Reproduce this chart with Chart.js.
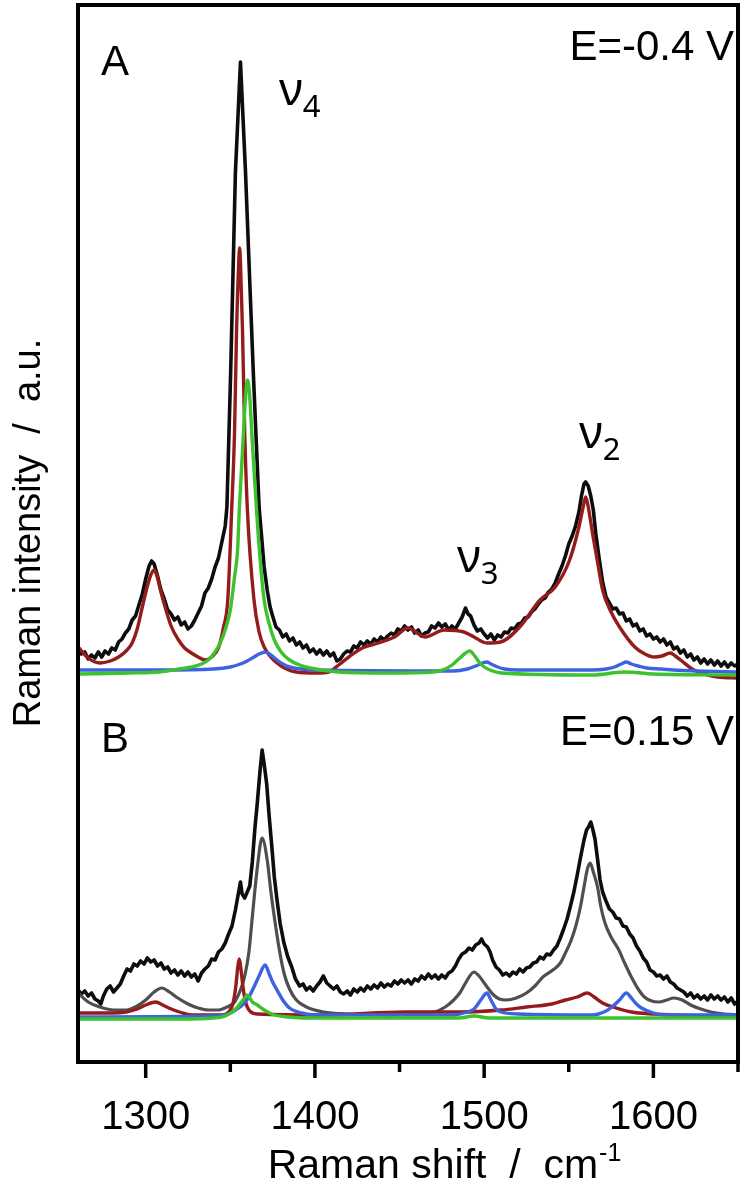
<!DOCTYPE html>
<html>
<head>
<meta charset="utf-8">
<title>Raman spectra</title>
<script src="https://cdn.jsdelivr.net/npm/chart.js@4"></script>
<style>
  html, body { margin: 0; padding: 0; background: #fff; }
  #wrap { width: 754px; height: 1189px; }
</style>
</head>
<body>
<div id="wrap"><canvas id="ramanChart" width="754" height="1189"></canvas></div>
<script>
// x axis ticks (cm-1)
const majorTicks = [1300, 1400, 1500, 1600];
const minorTicks = [1350, 1450, 1550, 1650];

// panel A, E = -0.4 V  ([shift, intensity])
const aBlack = [[1260,41.5],[1262,40.8],[1264,41.0],[1266,40.3],[1268,40.7],[1270,40.4],[1272,41.0],[1274,40.5],[1276,41.1],[1278,40.8],[1280,41.4],[1282,41.2],[1284,42.0],[1286,42.3],[1288,42.9],[1290,43.3],[1292,44.2],[1294,44.6],[1296,45.7],[1298,46.8],[1300,48.3],[1302,49.6],[1303.5,50.1],[1305,49.8],[1307,48.6],[1309,47.2],[1311,46.3],[1313,45.2],[1315,44.8],[1317,44.2],[1319,44.5],[1321,43.7],[1323,44.0],[1325,43.3],[1327,43.6],[1329,44.2],[1331,44.9],[1333,45.6],[1335,46.9],[1337,47.4],[1339,48.3],[1341,49.5],[1343,50.4],[1345,52.0],[1347,53.6],[1348,55.5],[1350.2,68.9],[1353,88.9],[1356,100],[1359,88.9],[1363.6,68.9],[1367,55.5],[1370,49.5],[1371.8,47.2],[1373.5,45.5],[1375,44.6],[1377,43.5],[1379,43.2],[1381,42.5],[1383,42.8],[1385,42.1],[1387,42.4],[1389,41.7],[1391,42.0],[1393,41.4],[1395,41.7],[1397,41.0],[1399,41.3],[1401,40.8],[1403,41.2],[1405,40.7],[1407,41.1],[1409,40.6],[1411,40.9],[1413,40.1],[1415,40.3],[1417,40.8],[1419,41.1],[1421,41.0],[1423,41.6],[1425,41.4],[1427,42.0],[1429,41.7],[1431,42.1],[1433,41.8],[1435,42.3],[1437,42.0],[1439,42.5],[1441,42.2],[1443,42.6],[1445,42.9],[1447,42.7],[1449,43.3],[1451,43.1],[1453,43.6],[1455,43.2],[1457,43.5],[1459,42.9],[1461,43.2],[1463,42.6],[1465,42.9],[1467,43.0],[1469,43.6],[1471,43.4],[1473,43.9],[1475,43.5],[1477,43.8],[1479,43.2],[1481,43.6],[1483,43.3],[1485,43.9],[1487,44.5],[1489,45.4],[1490.5,44.8],[1492,44.6],[1494,43.7],[1496,43.1],[1498,43.3],[1500,42.8],[1502,42.4],[1504,42.8],[1506,42.2],[1508,42.7],[1510,42.5],[1512,43.0],[1514,42.9],[1516,43.4],[1518,43.3],[1520,43.8],[1522,43.9],[1524,44.4],[1526,44.5],[1528,45.0],[1530,45.3],[1532,45.8],[1534,46.2],[1536,46.4],[1538,47.0],[1540,47.3],[1542,47.9],[1544,48.8],[1546,49.6],[1548,50.6],[1550,51.8],[1552,52.6],[1554,53.6],[1556,55.0],[1557.5,56.6],[1559,57.8],[1560,58.0],[1561.5,57.6],[1563,56.6],[1564.5,55.2],[1566,52.8],[1568,50.3],[1570,48.0],[1572,46.5],[1574,45.9],[1576,45.3],[1578,45.4],[1580,44.8],[1582,44.9],[1584,44.1],[1586,44.3],[1588,43.6],[1590,43.8],[1592,43.1],[1594,43.3],[1596,42.6],[1598,42.8],[1600,42.3],[1602,42.5],[1604,42.0],[1606,42.3],[1608,41.7],[1610,42.0],[1612,41.3],[1614,41.5],[1616,40.9],[1618,41.2],[1620,40.5],[1622,40.8],[1624,40.2],[1626,40.5],[1628,39.9],[1630,40.3],[1632,39.8],[1634,40.2],[1636,39.7],[1638,40.1],[1640,39.6],[1642,40.0],[1644,39.5],[1646,39.9],[1648,39.6],[1650,39.8]];
const aRed = [[1260,41.5],[1266,40.4],[1273,39.9],[1279,40.1],[1284,40.5],[1289,41.2],[1292,41.9],[1295,43.3],[1298,45.5],[1301,47.6],[1303,48.7],[1305,49.2],[1307,48.4],[1309,47.0],[1312,45.2],[1315,43.6],[1319,42.3],[1323,41.4],[1327,40.9],[1331,40.5],[1335,40.2],[1339,40.5],[1343,41.4],[1346,43.5],[1348.5,46.2],[1350.8,55.2],[1352.5,63],[1353.7,73.2],[1355,80],[1355.5,81.4],[1356,80],[1357.2,73.2],[1358.5,63],[1360.1,55.2],[1364,46.2],[1367,43.0],[1370,41.5],[1377.6,39.9],[1389,39.0],[1401,38.9],[1408,39.0],[1414,39.7],[1420,40.5],[1428,41.4],[1437.5,41.9],[1447,42.5],[1455,43.4],[1465,42.5],[1476.5,43.2],[1488,43.0],[1494,42.5],[1501.6,41.9],[1509.7,42.0],[1521,43.5],[1533,46.2],[1542,47.5],[1550.5,50.2],[1556,53.5],[1558.5,55.5],[1560,56.5],[1561.5,55.5],[1564,52.9],[1567,50.0],[1570,47.2],[1575,45.0],[1580,43.5],[1589,41.5],[1595,40.8],[1600.5,40.5],[1605,40.6],[1610,40.9],[1613,40.6],[1616,40.2],[1624,39.2],[1638,38.5],[1650,38.4]];
const aGreen = [[1260,38.8],[1290,38.9],[1308,39.0],[1320,39.3],[1327,39.5],[1333,39.8],[1337,40.2],[1341,41.0],[1344,41.9],[1347,43.2],[1350,45.2],[1352.5,48.5],[1354.3,51.2],[1355.3,55.2],[1357.5,62],[1359,66.5],[1360.2,68.2],[1361.5,66.5],[1363,62],[1365.5,55.2],[1367.5,50.5],[1370,46.2],[1373,43.8],[1376,42.2],[1380,41.0],[1385,40.2],[1391,39.7],[1397,39.4],[1414,39.0],[1443,38.9],[1470,39.0],[1477,39.3],[1481,39.7],[1485,40.3],[1489,40.9],[1491.5,41.1],[1494,40.7],[1497,40.0],[1500,39.5],[1505,39.1],[1510,38.9],[1564,38.7],[1583,39.0],[1600,38.8],[1650,38.7]];
const aBlue = [[1260,39.2],[1308,39.2],[1340,39.3],[1350,39.5],[1356,39.8],[1360,40.1],[1364,40.5],[1367,40.8],[1370.6,41.0],[1374,40.7],[1377.6,40.2],[1381,39.8],[1385,39.5],[1392,39.3],[1401,39.2],[1482,39.1],[1490,39.3],[1495,39.6],[1499,39.9],[1501.6,40.0],[1504,39.8],[1508,39.5],[1512,39.3],[1520,39.2],[1564,39.2],[1572,39.3],[1577,39.5],[1581,39.8],[1584,40.0],[1587,39.8],[1591,39.6],[1596,39.4],[1605,39.3],[1612,39.2],[1650,39.0]];

// panel B, E = 0.15 V
const bBlack = [[1260,7.2],[1262,6.8],[1264,7.1],[1266,6.6],[1268,6.9],[1270,6.3],[1272,6.1],[1273.5,5.8],[1275,6.6],[1277,7.3],[1279,7.6],[1281,7.0],[1283,7.4],[1285,7.8],[1287,8.6],[1289,9.3],[1291,9.1],[1293,9.8],[1295,9.6],[1297,10.1],[1299,9.8],[1301,10.4],[1303,10.0],[1305,10.2],[1307,9.6],[1309,9.9],[1311,9.3],[1313,9.5],[1315,8.9],[1317,9.2],[1319,8.7],[1321,9.1],[1323,8.6],[1325,9.0],[1327,8.5],[1329,8.8],[1331,8.1],[1333,8.9],[1335,9.3],[1337,9.6],[1339,10.3],[1341,10.2],[1343,11.0],[1345,11.3],[1347,11.9],[1349,12.8],[1351,13.6],[1353,15.2],[1354.5,16.6],[1356,18.0],[1357,16.8],[1358.5,16.4],[1360,17.0],[1361.5,17.6],[1363,20.0],[1364.5,23.3],[1366,26.0],[1367.5,29.0],[1368.8,31.2],[1370,29.8],[1371.5,27.8],[1373,24.5],[1374.7,21.2],[1376,18.5],[1377.6,16.2],[1379.5,13.8],[1381.7,11.9],[1384,10.5],[1386.3,9.5],[1388.5,8.3],[1391,7.6],[1393,7.8],[1395,7.2],[1397,7.5],[1399,7.1],[1401,7.6],[1403,8.0],[1405,8.6],[1407,7.9],[1409,7.6],[1411,7.3],[1413,7.6],[1415,7.0],[1417,6.8],[1419,7.1],[1421,6.7],[1423,7.3],[1425,7.0],[1427,7.4],[1429,7.1],[1431,7.6],[1433,7.3],[1435,7.7],[1437,7.4],[1439,7.9],[1441,7.5],[1443,7.8],[1445,7.6],[1447,8.1],[1449,7.8],[1451,8.2],[1453,7.9],[1455,8.2],[1457,7.8],[1459,8.3],[1461,8.1],[1463,8.6],[1465,8.3],[1467,8.8],[1469,8.4],[1471,8.7],[1473,8.3],[1475,8.7],[1477,8.4],[1479,8.9],[1481,9.1],[1483,9.6],[1485,10.3],[1487,10.8],[1489,11.0],[1491,11.4],[1493,11.2],[1495,11.7],[1497,11.9],[1498.5,12.3],[1500,11.8],[1502,11.5],[1503.5,11.0],[1505,10.2],[1507,9.5],[1509,9.2],[1511,8.7],[1513,8.9],[1515,8.6],[1517,9.0],[1519,8.8],[1521,9.3],[1523,9.0],[1525,9.4],[1527,9.5],[1529,9.9],[1531,10.0],[1533,10.5],[1535,10.3],[1537,10.8],[1539,10.7],[1541,11.2],[1543,11.6],[1545,12.4],[1547,13.3],[1549,14.3],[1551,15.6],[1553,17.0],[1555,18.7],[1557,20.5],[1559,22.2],[1560.5,23.2],[1562,23.6],[1563,24.0],[1564,23.4],[1565.5,22.3],[1567,20.3],[1568.5,18.2],[1570,17.0],[1572,16.1],[1574,15.3],[1576,15.0],[1578,14.4],[1580,14.3],[1582,13.6],[1584,13.5],[1586,12.8],[1588,12.4],[1590,11.6],[1592,11.1],[1594,10.4],[1596,10.0],[1598,9.2],[1600,9.0],[1602,8.6],[1604,8.7],[1606,8.3],[1608,8.6],[1610,8.0],[1612,7.8],[1614,7.4],[1616,7.2],[1618,7.0],[1620,6.6],[1622,6.9],[1624,6.4],[1626,6.7],[1628,6.3],[1630,6.6],[1632,6.2],[1634,6.7],[1636,6.3],[1638,6.6],[1640,6.2],[1642,6.5],[1644,6.0],[1646,6.4],[1648,5.8],[1650,6.1]];
const bGray = [[1260,6.9],[1266,6.0],[1273,5.5],[1281,5.2],[1288.5,5.2],[1295,5.6],[1300,6.2],[1305,7.0],[1309.5,7.4],[1314,7.0],[1319,6.4],[1325,5.8],[1331,5.4],[1337,5.2],[1343,5.2],[1348,5.5],[1352.5,6.0],[1356,7.2],[1358.4,8.5],[1361,11.0],[1363,14.5],[1366,19.5],[1368.8,22.4],[1371.8,20.2],[1374,17.0],[1376,14.5],[1379,11.2],[1381.7,8.9],[1385,7.3],[1389,6.2],[1395,5.5],[1405,5.0],[1420,4.8],[1443,4.7],[1460,4.8],[1470.7,5.0],[1477,5.5],[1482,6.2],[1486,7.0],[1489,7.9],[1494,9.0],[1497,8.6],[1500,7.9],[1505.6,6.7],[1509,6.3],[1513,6.2],[1519,6.4],[1525,6.9],[1530,7.6],[1534.7,8.5],[1540.6,9.2],[1545,9.9],[1548,10.9],[1551,12.0],[1554,13.5],[1557,15.6],[1559,17.5],[1561,19.3],[1562.7,19.9],[1564.5,19.0],[1567,17.5],[1569,15.5],[1571.4,13.9],[1575,12.5],[1579.6,11.2],[1583,9.9],[1587,8.5],[1591,7.3],[1594.7,6.5],[1599,6.1],[1603,6.0],[1608,6.2],[1612,6.4],[1617,6.2],[1622,5.7],[1628,5.3],[1634,5.0],[1642,4.8],[1650,4.7]];
const bRed = [[1260,4.9],[1280,4.9],[1288.5,5.0],[1295,5.3],[1300,5.7],[1306,6.0],[1310,5.7],[1313.6,5.4],[1320,5.0],[1327,4.7],[1345,4.7],[1349,5.0],[1351.5,5.8],[1353.2,7.5],[1354.5,9.6],[1355.3,10.3],[1356.2,9.4],[1357.5,7.5],[1359,6.0],[1361,5.2],[1366,4.8],[1405,4.7],[1453,5.0],[1486,5.0],[1510,5.2],[1525,5.5],[1540,5.8],[1548,6.2],[1555,6.5],[1561,6.9],[1565,6.5],[1570,5.9],[1578,5.4],[1587,5.0],[1600,4.8],[1612,4.7],[1650,4.6]];
const bBlue = [[1260,4.5],[1340,4.6],[1347,4.7],[1353,5.2],[1358.4,5.9],[1361,6.5],[1364,7.5],[1367,8.6],[1370.6,9.7],[1373,8.8],[1375,8.0],[1377.6,7.2],[1381,6.2],[1385,5.4],[1392,4.9],[1401,4.7],[1482,4.7],[1490,5.0],[1494,5.3],[1498,6.2],[1501.6,6.9],[1504,6.2],[1507,5.3],[1510,5.0],[1520,4.8],[1564,4.7],[1572,5.1],[1575.5,5.5],[1580,6.2],[1584,6.9],[1587,6.4],[1590,5.8],[1593,5.4],[1600,4.9],[1606,4.7],[1650,4.7]];
const bGreen = [[1260,4.3],[1320,4.3],[1340,4.4],[1347,4.6],[1351,5.0],[1354.3,5.5],[1357,6.1],[1359,6.5],[1360,6.7],[1361.5,6.4],[1363,6.0],[1366,5.7],[1370,5.2],[1376,4.7],[1385,4.5],[1395,4.4],[1485,4.4],[1494,4.6],[1503,4.4],[1650,4.4]];

const BLACK = '#0d0d0d';
const RED = '#961b1b';
const GREEN = '#3cc22c';
const BLUE = '#3e63e0';
const GRAY = '#4f4f4f';
const FONT = 'Liberation Sans, Arial, sans-serif';

function toPoints(arr) {
    return arr.map(p => ({ x: p[0], y: p[1] }));
}

function line(data, color, order, width, smooth) {
    return {
        data: toPoints(data),
        showLine: true,
        borderColor: color,
        backgroundColor: color,
        borderWidth: width,
        borderJoinStyle: 'round',
        pointRadius: 0,
        fill: false,
        tension: 0,
        cubicInterpolationMode: smooth ? 'monotone' : 'default',
        order: order
    };
}

// frame, tick marks and all the labels
const decorPlugin = {
    id: 'decor',
    afterDraw(chart) {
        const { ctx, chartArea: a, scales: { x } } = chart;
        ctx.save();
        ctx.strokeStyle = '#000';
        ctx.lineWidth = 4;
        ctx.strokeRect(a.left, a.top, a.right - a.left, a.bottom - a.top);

        ctx.lineWidth = 3.5;
        majorTicks.forEach(v => {
            const px = x.getPixelForValue(v);
            ctx.beginPath(); ctx.moveTo(px, a.bottom); ctx.lineTo(px, a.bottom + 16); ctx.stroke();
        });
        minorTicks.forEach(v => {
            const px = Math.min(x.getPixelForValue(v), a.right);
            ctx.beginPath(); ctx.moveTo(px, a.bottom); ctx.lineTo(px, a.bottom + 10); ctx.stroke();
        });

        ctx.fillStyle = '#000';
        ctx.textBaseline = 'alphabetic';

        // axis titles
        ctx.font = '41px ' + FONT;
        ctx.textAlign = 'left';
        const main = 'Raman shift  /  cm';
        const w1 = ctx.measureText(main).width;
        ctx.font = '25px ' + FONT;
        const w2 = ctx.measureText('-1').width;
        const x0 = 444 - (w1 + w2) / 2;
        ctx.font = '41px ' + FONT;
        ctx.fillText(main, x0, 1178);
        ctx.font = '25px ' + FONT;
        ctx.fillText('-1', x0 + w1 + 1, 1161);

        ctx.save();
        ctx.translate(30, 533);
        ctx.rotate(-Math.PI / 2);
        ctx.font = '38px ' + FONT;
        ctx.textAlign = 'center';
        ctx.textBaseline = 'middle';
        ctx.fillText('Raman intensity  /  a.u.', 0, 0);
        ctx.restore();

        // panel letters and potentials
        ctx.font = '42px ' + FONT;
        ctx.textAlign = 'left';
        ctx.fillText('A', 101, 75);
        ctx.fillText('B', 101, 752);
        ctx.textAlign = 'right';
        ctx.fillText('E=-0.4 V', 734, 60);
        ctx.fillText('E=0.15 V', 734, 745);

        // band labels
        ctx.textAlign = 'left';
        const nu = (px, py, sub) => {
            ctx.font = '46px Noto Sans, DejaVu Sans, sans-serif';
            ctx.fillText('ν', px, py);
            const w = ctx.measureText('ν').width;
            ctx.font = '31px Noto Sans, DejaVu Sans, sans-serif';
            ctx.fillText(sub, px + w, py + 12);
        };
        nu(279, 105, '4');
        nu(457, 572, '3');
        nu(579, 448, '2');
        ctx.restore();
    }
};

new Chart(document.getElementById('ramanChart'), {
    type: 'scatter',
    data: {
        datasets: [
            line(aBlack, BLACK, 6, 3.6, false),
            line(aRed, RED, 3, 3.4, true),
            line(aBlue, BLUE, 2, 3.4, true),
            line(aGreen, GREEN, 1, 3.4, true),
            line(bBlack, BLACK, 6, 3.6, false),
            line(bGray, GRAY, 4, 3.2, true),
            line(bRed, RED, 3, 3.4, true),
            line(bBlue, BLUE, 2, 3.4, true),
            line(bGreen, GREEN, 1, 3.4, true)
        ]
    },
    options: {
        responsive: false,
        animation: false,
        layout: { padding: { left: 78, right: 6, top: 5, bottom: 0 } },
        plugins: { legend: { display: false }, tooltip: { enabled: false } },
        scales: {
            x: {
                type: 'linear',
                min: 1260,
                max: 1650,
                afterFit: s => { s.height = 127; },
                afterBuildTicks: s => { s.ticks = majorTicks.concat(minorTicks).sort((p, q) => p - q).map(v => ({ value: v })); },
                grid: { drawOnChartArea: false, drawTicks: true, tickLength: 16, color: 'rgba(0,0,0,0)' },
                border: { display: false },
                ticks: {
                    autoSkip: false,
                    maxRotation: 0,
                    padding: 16,
                    color: '#000',
                    font: { family: FONT, size: 40 },
                    callback: v => majorTicks.includes(v) ? String(v) : ''
                }
            },
            y: {
                display: false,
                min: 0,
                max: 105.7
            }
        }
    },
    plugins: [decorPlugin]
});
</script>
</body>
</html>
